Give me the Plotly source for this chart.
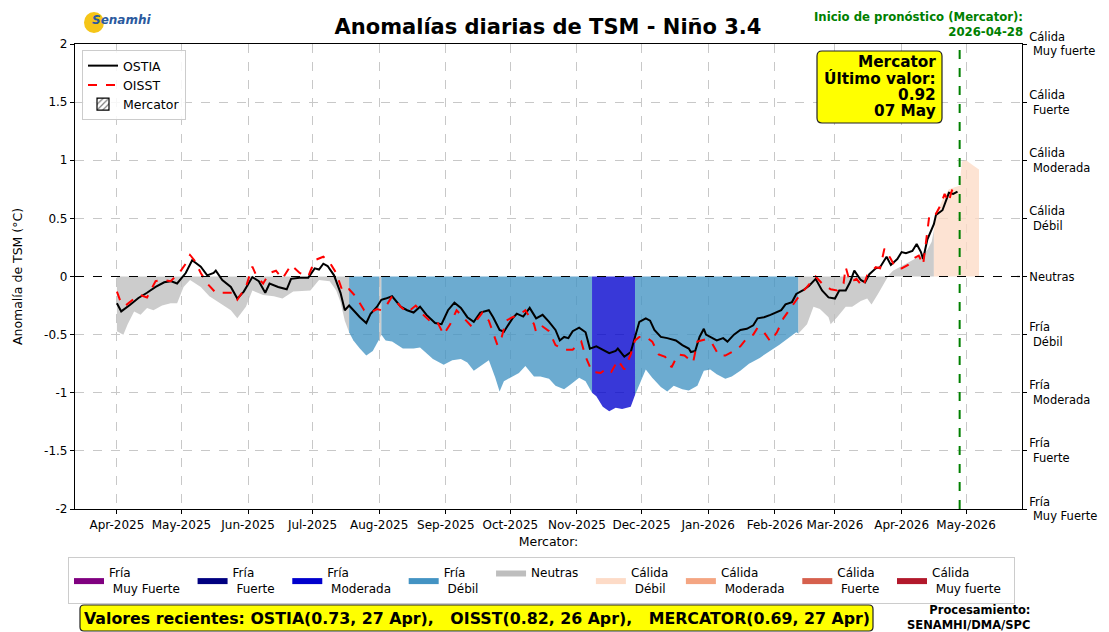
import pandas as pd
import plotly.graph_objects as go

# ---------------- data ----------------
start_date = "2025-04-01"

ostia_day = [0, 2, 6, 10, 14, 18, 22, 25, 28, 32, 35, 39, 42, 45, 46, 49, 53, 56, 59, 63, 66, 69, 71, 75, 79, 81,
             85, 89, 92, 94, 96, 98, 101, 104, 106, 108, 111, 113, 116, 118, 121, 123, 125, 128, 132, 135, 138,
             141, 144, 148, 151, 154, 157, 160, 163, 166, 169, 173, 175, 178, 180, 184, 186, 189, 192, 195, 198,
             201, 204, 206, 208, 210, 212, 215, 218, 220, 223, 226, 229, 232, 233, 236, 239, 241, 243, 246, 248,
             250, 253, 256, 260, 263, 266, 267, 269, 271, 273, 274, 276, 279, 282, 284, 287, 290, 293, 296, 298,
             301, 304, 307, 309, 311, 314, 316, 319, 322, 325, 328, 331, 334, 336, 339, 341, 343, 346, 348, 350,
             353, 355, 358, 360, 363, 365, 367, 370, 372, 374, 375, 377, 380, 381, 384, 386, 387, 389, 391]
ostia_val = [-0.23, -0.30, -0.245, -0.185, -0.14, -0.09, -0.05, -0.04, -0.06, 0.03, 0.14, 0.085, 0.01, 0.03, 0.05,
             -0.03, -0.09, -0.19, -0.13, -0.005, -0.04, -0.14, -0.06, -0.09, -0.11, -0.02, -0.01, -0.01, 0.07, 0.06,
             0.11, 0.09, 0.01, -0.14, -0.29, -0.25, -0.31, -0.35, -0.40, -0.32, -0.26, -0.20, -0.19, -0.17, -0.26,
             -0.29, -0.31, -0.26, -0.33, -0.40, -0.41, -0.29, -0.225, -0.27, -0.35, -0.39, -0.31, -0.29, -0.35,
             -0.46, -0.475, -0.36, -0.32, -0.345, -0.27, -0.36, -0.33, -0.39, -0.46, -0.55, -0.52, -0.53, -0.47,
             -0.44, -0.48, -0.62, -0.60, -0.63, -0.66, -0.64, -0.62, -0.69, -0.65, -0.52, -0.39, -0.36, -0.38,
             -0.46, -0.52, -0.53, -0.55, -0.59, -0.62, -0.65, -0.64, -0.52, -0.45, -0.50, -0.52, -0.55, -0.53,
             -0.56, -0.50, -0.46, -0.45, -0.42, -0.36, -0.35, -0.33, -0.31, -0.29, -0.24, -0.22, -0.15, -0.12,
             -0.08, -0.02, -0.12, -0.18, -0.19, -0.12, -0.12, -0.05, 0.05, -0.03, -0.05, 0.02, 0.07, 0.08, 0.17,
             0.10, 0.15, 0.21, 0.20, 0.22, 0.28, 0.21, 0.15, 0.32, 0.45, 0.53, 0.57, 0.68, 0.72, 0.71, 0.73]

oisst_day = [0, 2, 4, 8, 11, 14, 18, 21, 25, 29, 32, 34, 36, 39, 42, 46, 51, 54, 56, 60, 63, 65, 68, 71, 74, 77,
             81, 85, 89, 92, 96, 99, 102, 105, 108, 111, 115, 118, 121, 123, 125, 128, 132, 135, 139, 142, 146,
             149, 152, 155, 158, 161, 165, 168, 170, 173, 177, 179, 181, 184, 187, 190, 194, 195, 198, 201, 204,
             208, 212, 216, 218, 221, 225, 228, 230, 233, 236, 239, 241, 243, 246, 249, 252, 255, 258, 261, 264,
             268, 270, 274, 277, 280, 283, 286, 290, 293, 296, 298, 301, 304, 307, 310, 313, 315, 318, 321, 325,
             328, 332, 335, 338, 339, 341, 344, 347, 349, 353, 355, 357, 360, 362, 365, 368, 370, 373, 375, 377,
             378, 381, 383, 385, 387, 388, 390]
oisst_val = [-0.13, -0.23, -0.25, -0.19, -0.16, -0.18, -0.04, -0.03, -0.04, 0.03, 0.11, 0.185, 0.14, 0.03, -0.06,
             -0.14, -0.14, -0.14, -0.20, -0.09, 0.085, 0.0, -0.06, 0.03, 0.05, -0.02, 0.10, 0.03, 0.0, 0.14, 0.17,
             0.12, 0.03, -0.13, -0.11, -0.17, -0.29, -0.31, -0.28, -0.29, -0.26, -0.17, -0.26, -0.31, -0.25, -0.32,
             -0.39, -0.39, -0.50, -0.41, -0.29, -0.35, -0.43, -0.36, -0.31, -0.38, -0.59, -0.52, -0.38, -0.35,
             -0.33, -0.29, -0.41, -0.48, -0.43, -0.47, -0.59, -0.63, -0.63, -0.56, -0.69, -0.82, -0.83, -0.79,
             -0.82, -0.72, -0.80, -0.67, -0.55, -0.52, -0.52, -0.56, -0.67, -0.69, -0.78, -0.67, -0.68, -0.74,
             -0.56, -0.54, -0.58, -0.68, -0.68, -0.65, -0.60, -0.53, -0.50, -0.44, -0.48, -0.56, -0.48, -0.36,
             -0.28, -0.22, -0.15, -0.09, 0.0, -0.06, -0.11, -0.12, -0.06, 0.08, -0.05, -0.02, -0.09, 0.01, 0.08,
             0.07, 0.24, 0.15, 0.08, 0.07, 0.10, 0.15, 0.18, 0.10, 0.37, 0.54, 0.54, 0.61, 0.71, 0.64, 0.72, 0.81]

merc_day = [0, 3, 5, 8, 11, 14, 17, 21, 25, 28, 31, 34, 39, 43, 48, 53, 56, 60, 63, 68, 73, 77, 82, 87, 90, 94,
            99, 102, 104, 106, 108, 110, 113, 116, 119, 121, 122, 123, 125, 128, 133, 138, 141, 144, 147, 152,
            156, 160, 163, 166, 170, 173, 176, 178, 180, 184, 187, 190, 194, 197, 201, 204, 208, 211, 215, 218,
            221, 223, 226, 229, 232, 235, 239, 241, 243, 246, 249, 253, 256, 259, 263, 266, 270, 273, 276, 279,
            283, 286, 290, 294, 299, 304, 308, 313, 316, 317, 321, 324, 327, 331, 332, 335, 339, 342, 346, 349,
            351, 354, 356, 359, 361, 364, 367, 370, 373, 377, 379, 380, 381, 384, 387, 390, 392, 393, 395, 398, 401]
merc_val = [-0.47, -0.50, -0.41, -0.30, -0.33, -0.27, -0.29, -0.25, -0.23, -0.23, -0.09, -0.03, -0.09, -0.17,
            -0.23, -0.29, -0.36, -0.26, -0.12, -0.16, -0.17, -0.19, -0.13, -0.12, -0.12, -0.03, -0.04, -0.12,
            -0.22, -0.38, -0.48, -0.55, -0.62, -0.68, -0.64, -0.58, -0.54, -0.50, -0.55, -0.56, -0.62, -0.62,
            -0.61, -0.66, -0.71, -0.76, -0.72, -0.71, -0.74, -0.81, -0.76, -0.72, -0.87, -0.99, -0.90, -0.86,
            -0.83, -0.77, -0.86, -0.86, -0.88, -0.94, -0.97, -0.93, -0.87, -0.90, -1.00, -1.03, -1.12, -1.16,
            -1.13, -1.14, -1.12, -1.02, -0.93, -0.80, -0.87, -0.95, -0.99, -0.94, -0.97, -0.98, -0.94, -0.81,
            -0.80, -0.84, -0.88, -0.86, -0.81, -0.75, -0.70, -0.64, -0.59, -0.52, -0.48, -0.49, -0.41, -0.26,
            -0.28, -0.35, -0.41, -0.35, -0.26, -0.26, -0.21, -0.19, -0.24, -0.15, -0.09, 0.01, 0.05, 0.08, 0.11,
            0.14, 0.17, 0.23, 0.30, 0.40, 0.53, 0.66, 0.75, 0.77, 0.78, 0.99, 1.00, 0.96, 0.92]

# category periods of the Mercator bars (day ranges)
seg_start = [0, 108, 122, 123, 221, 241, 317, 380]
seg_end = [108, 122, 123, 221, 241, 317, 380, 401]
seg_cat = ["Neutras", "Fría Débil", "Neutras", "Fría Débil", "Fría Moderada", "Fría Débil", "Neutras", "Cálida Débil"]

NB = "\u00a0"
cat_names = ["Fría Muy Fuerte", "Fría Fuerte", "Fría Moderada", "Fría Débil", "Neutras",
             "Cálida Débil", "Cálida Moderada", "Cálida Fuerte", "Cálida Muy fuerte"]
cat_labels = ["Fría<br>" + NB + "Muy Fuerte", "Fría<br>" + NB + "Fuerte", "Fría<br>" + NB + "Moderada",
              "Fría<br>" + NB + "Débil", "Neutras", "Cálida<br>" + NB + "Débil", "Cálida<br>" + NB + "Moderada",
              "Cálida<br>" + NB + "Fuerte", "Cálida<br>" + NB + "Muy fuerte"]
cat_colors = ["#800080", "#000080", "#0000CD", "#4393C3", "#BEBEBE",
              "#FDDBC7", "#F4A582", "#D6604D", "#B2182B"]

month_ticks = ["2025-04-01", "2025-05-01", "2025-06-01", "2025-07-01", "2025-08-01", "2025-09-01",
               "2025-10-01", "2025-11-01", "2025-12-01", "2026-01-01", "2026-02-01", "2026-03-01",
               "2026-04-01", "2026-05-01"]
month_labels = ["Apr-2025", "May-2025", "Jun-2025", "Jul-2025", "Aug-2025", "Sep-2025", "Oct-2025",
                "Nov-2025", "Dec-2025", "Jan-2026", "Feb-2026", "Mar-2026", "Apr-2026", "May-2026"]

y_ticks = [2, 1.5, 1, 0.5, 0, -0.5, -1, -1.5, -2]
y_left_labels = ["2", "1.5", "1", "0.5", "0", "-0.5", "-1", "-1.5", "-2"]
y_right_labels = ["Cálida<br>" + NB + "Muy fuerte", "Cálida<br>" + NB + "Fuerte", "Cálida<br>" + NB + "Moderada",
                  "Cálida<br>" + NB + "Débil", "Neutras", "Fría<br>" + NB + "Débil", "Fría<br>" + NB + "Moderada",
                  "Fría<br>" + NB + "Fuerte", "Fría<br>" + NB + "Muy Fuerte"]

forecast_start = "2026-04-28"
box_lines = ["Mercator", "Último valor:", "0.92", "07 May"]
recent_text = ("Valores recientes: OSTIA(0.73, 27 Apr)," + NB * 3 + "OISST(0.82, 26 Apr),"
               + NB * 3 + "MERCATOR(0.69, 27 Apr)")

# ---------------- figure ----------------
t0 = pd.Timestamp(start_date)

# plot area in screen pixels (used only to place decorations in paper coordinates)
PL, PR, PT, PB = 75, 1022, 44, 509


def px_x(px):
    return (px - PL) / (PR - PL)


def px_y(py):
    return (PB - py) / (PB - PT)


def to_dates(days):
    return [t0 + pd.Timedelta(days=d) for d in days]


def rgba(hexc, a):
    h = hexc.lstrip("#")
    r, g, b = int(h[0:2], 16), int(h[2:4], 16), int(h[4:6], 16)
    return f"rgba({r},{g},{b},{a})"


def pad_label(lab, n=2):
    return "<br>".join(part + NB * n for part in lab.split("<br>"))


def round_rect(x0, y0, x1, y1, r):
    X = lambda v: f"{px_x(v):.5f}"
    Y = lambda v: f"{px_y(v):.5f}"
    return (f"M {X(x0 + r)},{Y(y0)} L {X(x1 - r)},{Y(y0)} Q {X(x1)},{Y(y0)} {X(x1)},{Y(y0 + r)} "
            f"L {X(x1)},{Y(y1 - r)} Q {X(x1)},{Y(y1)} {X(x1 - r)},{Y(y1)} "
            f"L {X(x0 + r)},{Y(y1)} Q {X(x0)},{Y(y1)} {X(x0)},{Y(y1 - r)} "
            f"L {X(x0)},{Y(y0 + r)} Q {X(x0)},{Y(y0)} {X(x0 + r)},{Y(y0)} Z")


FONT = "DejaVu Sans"
fig = go.Figure()

# Mercator bars, drawn as filled areas per category period
for s, e, c in zip(seg_start, seg_end, seg_cat):
    dd = [d for d in merc_day if s <= d <= e]
    vv = [v for d, v in zip(merc_day, merc_val) if s <= d <= e]
    col = cat_colors[cat_names.index(c)]
    fig.add_trace(go.Scatter(x=to_dates(dd), y=vv, mode="lines", fill="tozeroy",
                             line=dict(width=0, color=col), fillcolor=rgba(col, 0.78),
                             showlegend=False, hoverinfo="skip"))

fig.add_trace(go.Scatter(x=to_dates(ostia_day), y=ostia_val, mode="lines", name="OSTIA",
                         line=dict(color="black", width=2)))
fig.add_trace(go.Scatter(x=to_dates(oisst_day), y=oisst_val, mode="lines", name="OISST",
                         line=dict(color="red", width=2, dash="dash")))
fig.add_trace(go.Bar(x=[None], y=[None], name="Mercator",
                     marker=dict(color="white", line=dict(color="black", width=1.2),
                                 pattern=dict(shape="/", fgcolor="black", bgcolor="white", size=5,
                                              solidity=0.3))))

# category legend (bottom)
for lab, col in zip(cat_labels, cat_colors):
    fig.add_trace(go.Scatter(x=[None], y=[None], mode="lines", name=pad_label(lab), fill="toself",
                             fillcolor=col, line=dict(color=col, width=0), legend="legend2"))

# invisible trace for the right axis
fig.add_trace(go.Scatter(x=[None], y=[None], yaxis="y2", showlegend=False, hoverinfo="skip"))

# zero line and forecast line
fig.add_shape(type="line", xref="paper", x0=0, x1=1, y0=0, y1=0, yref="y",
              line=dict(color="black", width=1.2, dash="dash"))
fig.add_shape(type="line", xref="x", x0=forecast_start, x1=forecast_start, yref="paper", y0=0, y1=1,
              line=dict(color="green", width=2, dash="dash"))

# logo approximation
fig.add_shape(type="circle", xref="paper", yref="paper",
              x0=px_x(84), x1=px_x(104), y0=px_y(33), y1=px_y(12),
              fillcolor="#F5C518", line=dict(color="#F5C518", width=0))
fig.add_annotation(xref="paper", yref="paper", x=px_x(90), y=px_y(20), xanchor="left",
                   yanchor="middle", showarrow=False,
                   text="<b><i>Senamhi</i></b>", font=dict(family=FONT, size=12, color="#2B5A9E"))

fig.add_annotation(xref="paper", yref="paper", x=px_x(1025), y=px_y(8), xanchor="right", yanchor="top",
                   showarrow=False, align="right",
                   text="<b>Inicio de pronóstico (Mercator):<br>2026-04-28</b>",
                   font=dict(family=FONT, size=11.7, color="green"))

# Mercator "last value" box
fig.add_shape(type="path", xref="paper", yref="paper", path=round_rect(817, 51, 942, 123, 5),
              fillcolor="yellow", line=dict(color="#222222", width=1.2), layer="above")
for i, t in enumerate(box_lines):
    fig.add_annotation(xref="paper", yref="paper", x=px_x(938), y=px_y(62 + 16.5 * i), xanchor="right",
                       yanchor="middle", showarrow=False, text=f"<b>{t}</b>",
                       font=dict(family=FONT, size=15.3, color="black"))

# recent values box
fig.add_shape(type="path", xref="paper", yref="paper", path=round_rect(80, 605, 873, 631, 4),
              fillcolor="yellow", line=dict(color="#222222", width=1.2), layer="above")
fig.add_annotation(xref="paper", yref="paper", x=px_x(476.5), y=px_y(618.5), xanchor="center",
                   yanchor="middle", showarrow=False, text=f"<b>{recent_text}</b>",
                   font=dict(family=FONT, size=15.8, color="black"))

fig.add_annotation(xref="paper", yref="paper", x=px_x(1032), y=px_y(617), xanchor="right",
                   yanchor="middle", showarrow=False, align="right",
                   text="<b>Procesamiento:<br>SENAMHI/DMA/SPC</b>",
                   font=dict(family=FONT, size=11.5, color="black"))

# the page adds an 8 px body margin, so the figure is 8 px smaller and shifted
fig.update_layout(
    width=1101, height=624,
    margin=dict(l=67, r=87, t=36, b=123, autoexpand=False),
    paper_bgcolor="white", plot_bgcolor="white",
    font=dict(family=FONT, size=12, color="black"),
    title=dict(text="<b>Anomalías diarias de TSM - Niño 3.4</b>", x=540 / 1101, xanchor="center",
               y=1 - 19 / 624, yanchor="middle", font=dict(family=FONT, size=21, color="black")),
    xaxis=dict(range=["2025-03-12 12:00", "2026-05-27"], tickmode="array", tickvals=month_ticks,
               ticktext=month_labels, ticks="outside", ticklen=4, tickcolor="black",
               showgrid=True, gridcolor="#c8c8c8", griddash="dash", gridwidth=0.8,
               showline=True, linecolor="black", linewidth=1.2, mirror=True, automargin=False,
               title=dict(text="Mercator:", font=dict(size=12.5), standoff=6),
               tickfont=dict(size=12), zeroline=False),
    yaxis=dict(range=[-2, 2], tickmode="array", tickvals=y_ticks, ticktext=y_left_labels,
               ticks="outside", ticklen=4, tickcolor="black", automargin=False,
               showgrid=True, gridcolor="#c8c8c8", griddash="dash", gridwidth=0.8,
               showline=True, linecolor="black", linewidth=1.2, mirror=True, zeroline=False,
               title=dict(text="Anomalía de TSM (°C)", font=dict(size=12.5), standoff=18),
               tickfont=dict(size=12)),
    yaxis2=dict(range=[-2, 2], overlaying="y", side="right", tickmode="array", tickvals=y_ticks,
                ticktext=y_right_labels, ticks="outside", ticklen=4, tickcolor="black", automargin=False,
                showgrid=False, zeroline=False, showline=False, tickfont=dict(size=11.5)),
    legend=dict(x=px_x(82), y=px_y(50), xanchor="left", yanchor="top",
                bgcolor="rgba(255,255,255,0.85)", bordercolor="#cccccc", borderwidth=1,
                font=dict(family=FONT, size=12.5), tracegroupgap=0, itemwidth=30),
    legend2=dict(orientation="h", x=px_x(68), y=px_y(557), xanchor="left", yanchor="top",
                 bgcolor="white", bordercolor="#cccccc", borderwidth=1,
                 font=dict(family=FONT, size=12), itemwidth=30),
)

fig.write_html("out.html")
